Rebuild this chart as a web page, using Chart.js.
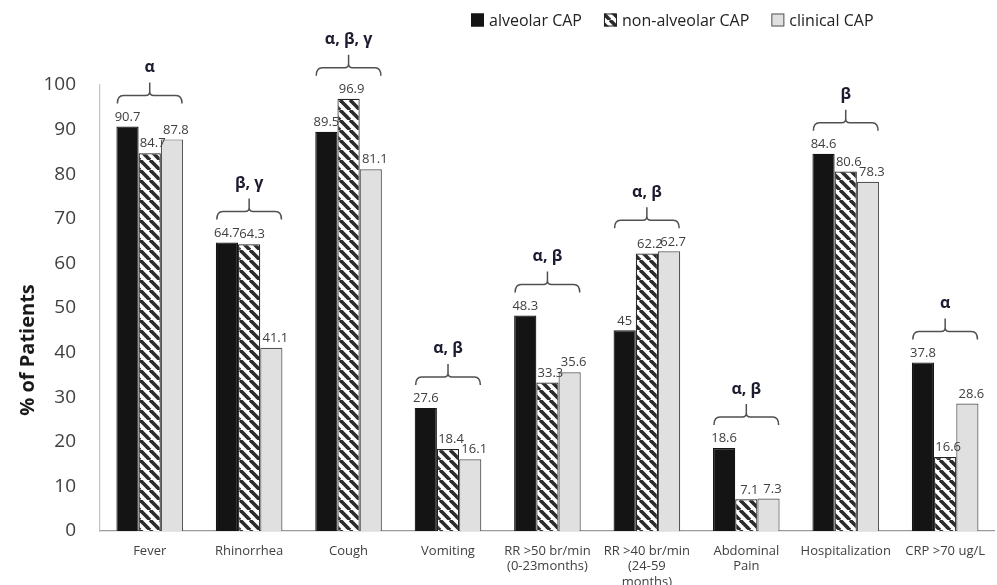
<!DOCTYPE html>
<html>
<head>
<meta charset="utf-8">
<script src="https://cdn.jsdelivr.net/npm/chart.js@4/dist/chart.umd.min.js"></script>
<style>
  html, body { margin: 0; padding: 0; background: #ffffff; }
  #wrap { width: 997px; height: 585px; }
</style>
</head>
<body>
<div id="wrap"><canvas id="chart" width="997" height="585"></canvas></div>
<script>
// Clinical findings by pneumonia group
const categories = [
  'Fever', 'Rhinorrhea', 'Cough', 'Vomiting',
  ['RR >50 br/min', '(0-23months)'],
  ['RR >40 br/min', '(24-59', 'months)'],
  ['Abdominal', 'Pain'],
  'Hospitalization', 'CRP >70 ug/L'
];
const seriesNames = ['alveolar CAP', 'non-alveolar CAP', 'clinical CAP'];
const alveolar    = [90.7, 64.7, 89.5, 27.6, 48.3, 45,   18.6, 84.6, 37.8];
const nonAlveolar = [84.7, 64.3, 96.9, 18.4, 33.3, 62.2, 7.1,  80.6, 16.6];
const clinical    = [87.8, 41.1, 81.1, 16.1, 35.6, 62.7, 7.3,  78.3, 28.6];
// significance markers shown over each group
const significance = ['α', 'β, γ', 'α, β, γ', 'α, β', 'α, β', 'α, β', 'α, β', 'β', 'α'];
const yTicks = { min: 0, max: 100, step: 10 };
const yTitle = '% of Patients';

// diagonal hatch fill for the non-alveolar series
function makeHatch() {
  const s = 10;
  const c = document.createElement('canvas');
  c.width = s; c.height = s;
  const g = c.getContext('2d');
  g.fillStyle = '#ffffff';
  g.fillRect(0, 0, s, s);
  g.strokeStyle = '#2b2b2b';
  g.lineWidth = 3.6;
  for (let k = -1; k <= 1; k++) {
    g.beginPath();
    g.moveTo(k * s, 0);
    g.lineTo(k * s + s, s);
    g.stroke();
  }
  return g.createPattern(c, 'repeat');
}
const hatch = makeHatch();

const styles = [
  { bg: '#141414', border: '#141414', shift: 0 },
  { bg: hatch,     border: '#222222', shift: 3 },
  { bg: '#e0e0e0', border: '#555555', shift: 4 }
];

// value labels above each bar
const valueLabels = {
  id: 'valueLabels',
  afterDatasetsDraw(chart) {
    const ctx = chart.ctx;
    ctx.save();
    ctx.font = '13px "Open Sans"';
    ctx.fillStyle = '#404040';
    ctx.textAlign = 'center';
    ctx.textBaseline = 'bottom';
    chart.data.datasets.forEach((ds, di) => {
      chart.getDatasetMeta(di).data.forEach((bar, i) => {
        ctx.fillText(String(ds.data[i]), bar.x + styles[di].shift, bar.y - 3);
      });
    });
    ctx.restore();
  }
};

// braces with significance letters above each group
const braces = {
  id: 'braces',
  afterDatasetsDraw(chart) {
    const ctx = chart.ctx;
    const metas = chart.data.datasets.map((d, i) => chart.getDatasetMeta(i));
    ctx.save();
    categories.forEach((c, i) => {
      const first = metas[0].data[i], last = metas[metas.length - 1].data[i];
      const left = first.x - first.width / 2 + 1;
      const right = last.x + last.width / 2 - 1;
      const cx = (left + right) / 2;
      const top = Math.min(...metas.map(m => m.data[i].y));
      const L = top - 31;
      ctx.strokeStyle = '#505050';
      ctx.lineWidth = 1.5;
      ctx.beginPath();
      ctx.moveTo(left, L + 8);
      ctx.quadraticCurveTo(left, L, left + 6, L);
      ctx.lineTo(cx - 4, L);
      ctx.quadraticCurveTo(cx, L, cx, L - 4);
      ctx.lineTo(cx, L - 13);
      ctx.moveTo(cx, L - 4);
      ctx.quadraticCurveTo(cx, L, cx + 4, L);
      ctx.lineTo(right - 6, L);
      ctx.quadraticCurveTo(right, L, right, L + 8);
      ctx.stroke();
      ctx.fillStyle = '#1c1c30';
      ctx.font = 'bold 16px "Open Sans"';
      ctx.textAlign = 'center';
      ctx.textBaseline = 'middle';
      ctx.fillText(significance[i], cx, L - 28);
    });
    ctx.restore();
  }
};

// legend row at the top and the rotated y-axis title
const decorations = {
  id: 'decorations',
  afterDraw(chart) {
    const ctx = chart.ctx;
    ctx.save();
    ctx.font = '16px "Open Sans"';
    ctx.textBaseline = 'middle';
    let x = 471;
    const y = 20, box = 13;
    chart.data.datasets.forEach((ds) => {
      ctx.fillStyle = ds.backgroundColor;
      ctx.fillRect(x, y - box / 2, box, box);
      ctx.strokeStyle = ds.borderColor;
      ctx.lineWidth = 1;
      ctx.strokeRect(x + 0.5, y - box / 2 + 0.5, box - 1, box - 1);
      ctx.fillStyle = '#222222';
      ctx.textAlign = 'left';
      ctx.fillText(ds.label, x + box + 5, y + 1);
      x += box + 5 + ctx.measureText(ds.label).width + 22;
    });
    ctx.restore();

    ctx.save();
    ctx.translate(28, 350);
    ctx.rotate(-Math.PI / 2);
    ctx.font = 'bold 20px "Open Sans"';
    ctx.fillStyle = '#1a1a1a';
    ctx.textAlign = 'center';
    ctx.textBaseline = 'middle';
    ctx.fillText(yTitle, 0, 0);
    ctx.restore();
  }
};

const seriesValues = [alveolar, nonAlveolar, clinical];

new Chart(document.getElementById('chart'), {
  type: 'bar',
  data: {
    labels: categories,
    datasets: seriesValues.map((vals, i) => ({
      label: seriesNames[i],
      data: vals,
      backgroundColor: styles[i].bg,
      borderColor: styles[i].border,
      borderWidth: 1.2,
      categoryPercentage: 0.67,
      barPercentage: 1.0
    }))
  },
  options: {
    responsive: false,
    animation: false,
    layout: { padding: { top: 85, right: 0, left: 0, bottom: 0 } },
    plugins: {
      legend: { display: false },
      tooltip: { enabled: false }
    },
    scales: {
      x: {
        grid: { display: false, drawTicks: false },
        border: { display: true, color: '#9a9a9a', width: 1.2 },
        ticks: {
          color: '#404040',
          font: { family: 'Open Sans', size: 13, lineHeight: 1.2 },
          padding: 12,
          maxRotation: 0,
          autoSkip: false
        },
        afterFit(scale) { scale.height = 54; }
      },
      y: {
        min: yTicks.min,
        max: yTicks.max,
        grid: { display: false, drawTicks: false },
        border: { display: true, color: '#c4c4c4', width: 1.2 },
        ticks: {
          stepSize: yTicks.step,
          color: '#404040',
          font: { family: 'Open Sans', size: 19 },
          padding: 24
        },
        afterFit(scale) { scale.width = 100; }
      }
    }
  },
  plugins: [valueLabels, braces, decorations]
});
</script>
</body>
</html>
